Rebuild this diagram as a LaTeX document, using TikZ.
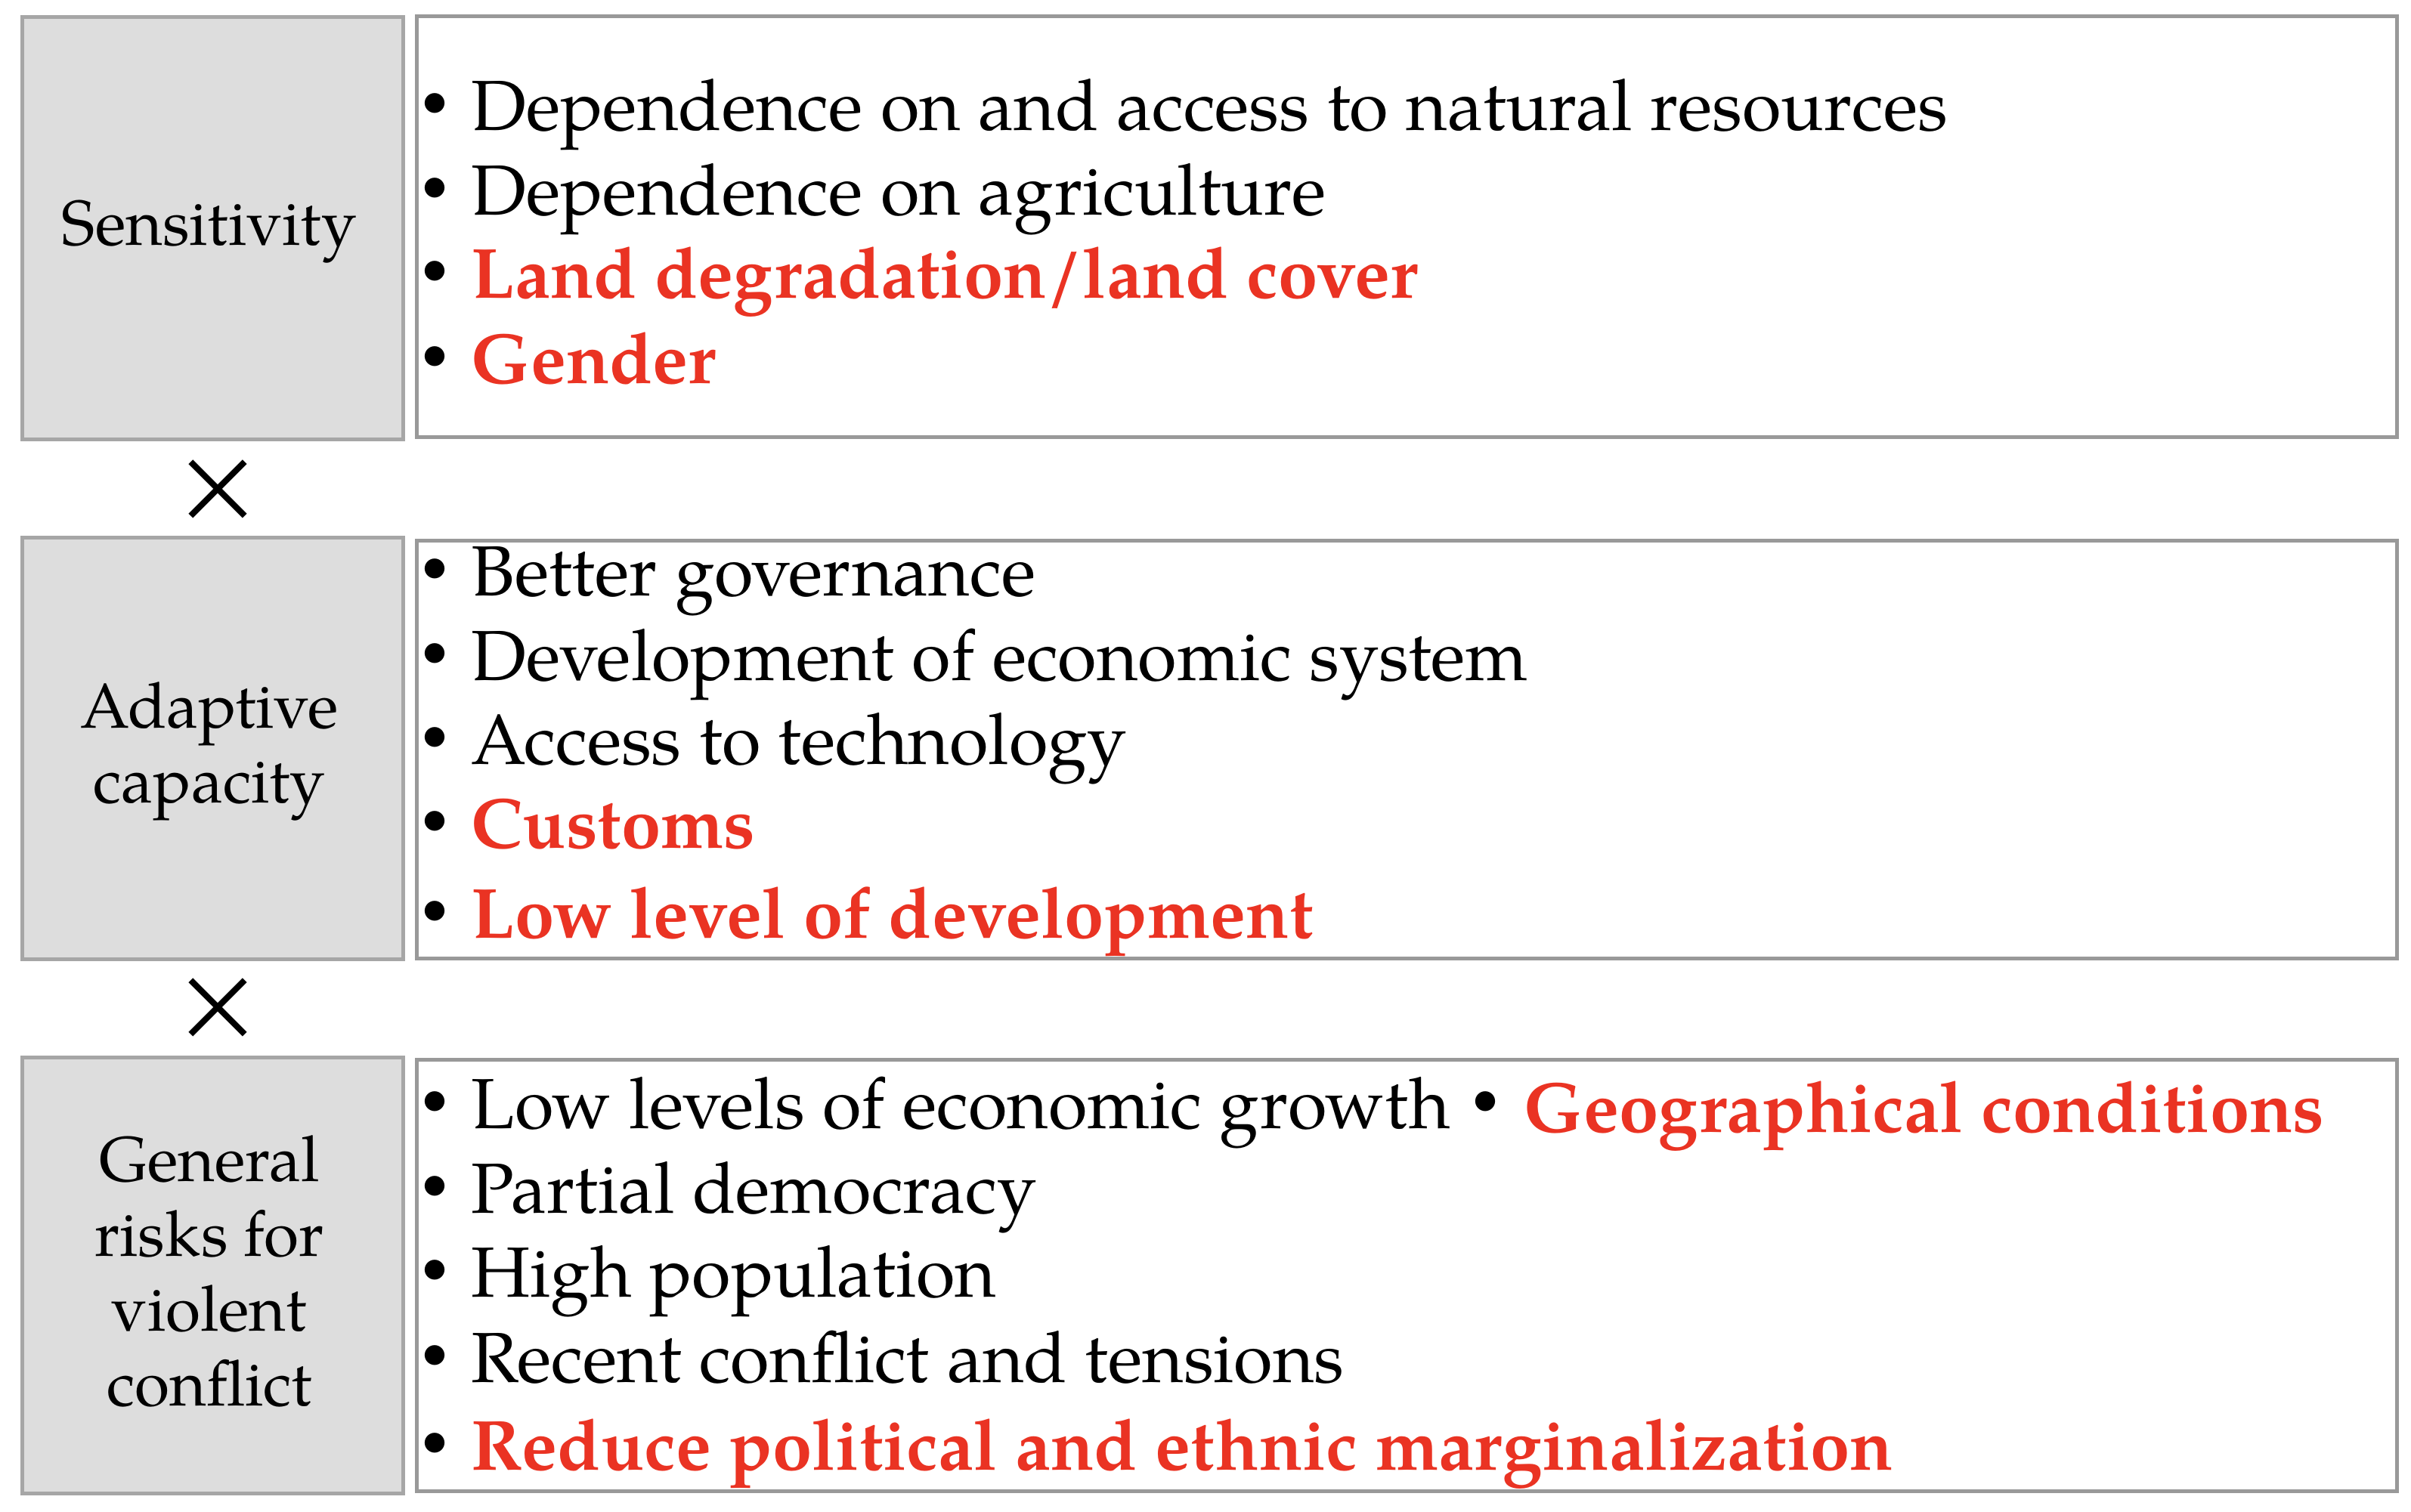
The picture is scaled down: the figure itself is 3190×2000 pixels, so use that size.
\documentclass[tikz,border=0pt]{standalone}
\usepackage{fontspec}
\setmainfont{texgyrepagella}[Extension=.otf, UprightFont=*-regular, BoldFont=*-bold, ItalicFont=*-italic, BoldItalicFont=*-bolditalic]
\newfontfamily\cjk{Noto Sans CJK JP}
\definecolor{lblfill}{RGB}{221,221,221}
\definecolor{lbldraw}{RGB}{166,166,166}
\definecolor{itemdraw}{RGB}{153,153,153}
\definecolor{hired}{RGB}{234,51,35}
\newcommand{\dotmark}{{\cjk\bfseries ・}}
\newcommand{\bul}{\dotmark\hspace{1.5pt}}
\newcommand{\hot}[1]{{\color{hired}\bfseries #1}}
\tikzset{
  lblbox/.style={draw=lbldraw, fill=lblfill, line width=5pt, inner sep=0pt, anchor=north west},
  itembox/.style={draw=itemdraw, fill=white, line width=5pt, inner sep=0pt, anchor=north west},
  lbltext/.style={inner sep=0pt, align=center, font=\fontsize{84}{99}\selectfont},
  itemtext/.style={inner sep=0pt, anchor=base west, font=\fontsize{94}{112}\selectfont},
  timesmark/.style={inner sep=0pt, font=\cjk\fontsize{120}{120}\selectfont}
}
\begin{document}
\begin{tikzpicture}[x=1pt, y=-1pt]
\useasboundingbox (0,0) rectangle (3190,2000);
% label boxes
\node[lblbox, minimum width=504pt, minimum height=559pt] (bsens) at (26.5,19.5) {};
\node[lblbox, minimum width=504pt, minimum height=558pt] (badapt) at (26.5,708.5) {};
\node[lblbox, minimum width=504pt, minimum height=577pt] (bgen) at (26.5,1396.5) {};
% item boxes
\node[itembox, minimum width=2619.5pt, minimum height=557pt] (isens) at (549,18.5) {};
\node[itembox, minimum width=2619.5pt, minimum height=553pt] (iadapt) at (549,712.5) {};
\node[itembox, minimum width=2619.5pt, minimum height=571pt] (igen) at (549,1399.5) {};
% labels
\node[lbltext, anchor=base] (lsens) at (277,324) {Sensitivity};
\node[lbltext] (ladapt) at (277,994) {Adaptive\\capacity};
\node[lbltext] (lgen) at (277,1682) {General\\risks for\\violent\\conflict};
% multiplication marks
\node[timesmark] (x1) at (288,651) {×};
\node[timesmark] (x2) at (288,1337) {×};
% sensitivity items
\node[itemtext] (s1) at (528,172) {\bul Dependence on and access to natural resources};
\node[itemtext] (s2) at (528,284) {\bul Dependence on agriculture};
\node[itemtext] (s3) at (528,394) {\bul\hot{Land degradation/land cover}};
\node[itemtext] (s4) at (528,507) {\bul\hot{Gender}};
% adaptive capacity items
\node[itemtext] (a1) at (528,788) {\bul Better governance};
\node[itemtext] (a2) at (528,900) {\bul Development of economic system};
\node[itemtext] (a3) at (528,1011) {\bul Access to technology};
\node[itemtext] (a4) at (528,1122) {\bul\hot{Customs}};
\node[itemtext] (a5) at (528,1241) {\bul\hot{Low level of development}};
% general risk items
\node[itemtext] (g1) at (528,1493) {\bul Low levels of economic growth\dotmark\hspace{4pt}\raisebox{-5pt}{\hot{Geographical conditions}}};
\node[itemtext] (g2) at (528,1605) {\bul Partial democracy};
\node[itemtext] (g3) at (528,1716) {\bul High population};
\node[itemtext] (g4) at (528,1829) {\bul Recent conflict and tensions};
\node[itemtext] (g5) at (528,1945) {\bul\hot{Reduce political and ethnic marginalization}};
\end{tikzpicture}
\end{document}
